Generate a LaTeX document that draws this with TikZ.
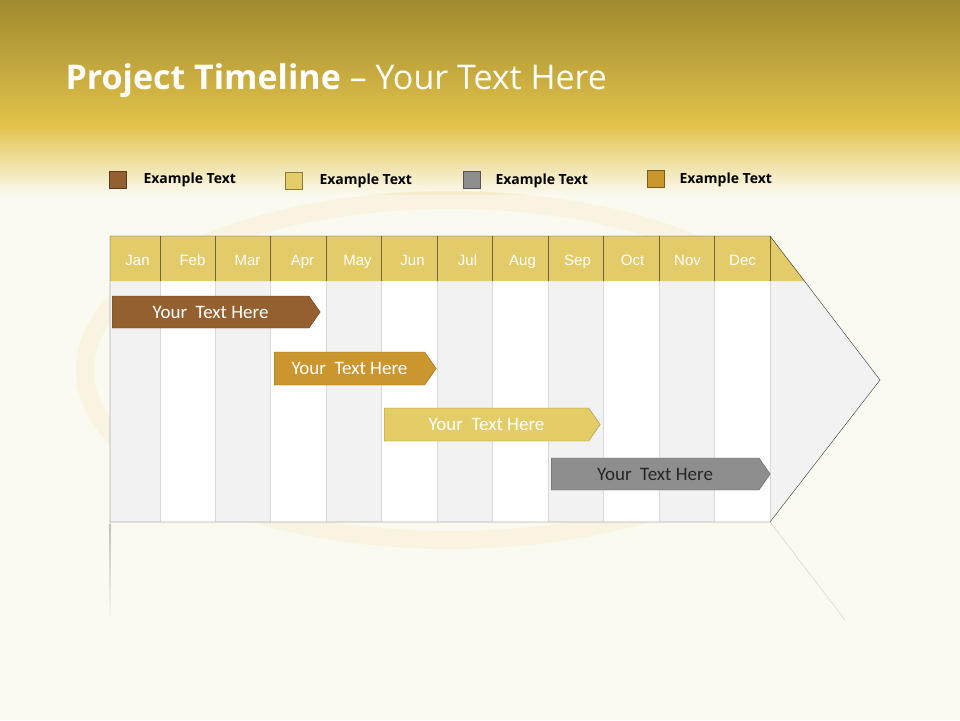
\documentclass[tikz,border=0pt]{standalone}
\usepackage{fontspec}
\setmainfont{Open Sans}
\newfontfamily\carl{Carlito}
\newfontfamily\narrow{Liberation Sans}
\usetikzlibrary{shapes.symbols}
\definecolor{bgc}{HTML}{FBFAF0}
\definecolor{goldtop}{HTML}{A08A30}
\definecolor{goldmid}{HTML}{E2C24A}
\definecolor{hdr}{HTML}{E3CB6A}
\definecolor{brn}{HTML}{956030}
\definecolor{ochre}{HTML}{CC962E}
\definecolor{ylw}{HTML}{E4CC66}
\definecolor{gry}{HTML}{8E8E8E}
\definecolor{colg}{HTML}{F2F2F2}
\tikzset{
 legbox/.style={draw=#1!60!black,fill=#1,minimum width=17pt,minimum height=17pt,inner sep=0pt},
 legtxt/.style={font=\bfseries\fontsize{14}{16}\selectfont,anchor=west},
 month/.style={font=\narrow\fontsize{15}{17}\selectfont,text=white},
 bar/.style={signal,signal to=east,signal pointer angle=110,draw=#1!70!black,fill=#1,inner sep=0pt,anchor=west,font=\carl\fontsize{19}{21}\selectfont,text=white},
}
\begin{document}
\begin{tikzpicture}[x=1pt,y=-1pt]
\useasboundingbox (0,0) rectangle (960,720);
\fill[bgc] (0,0) rectangle (960,720);
\shade[top color=goldtop,bottom color=goldmid] (0,0) rectangle (960,125);
\shade[top color=goldmid,bottom color=bgc] (0,125) rectangle (960,195);
% faint ring
\draw[line width=18pt,color=hdr!35] (450,370) ellipse (365 and 170);
\fill[bgc,opacity=.6] (0,195) rectangle (960,720);
\node[anchor=west,text=white,font=\fontsize{34}{38}\selectfont] (title) at (62,81) {\textbf{Project Timeline} -- Your Text Here};
% legend
\node[legbox=brn] (l1) at (118,180) {};
\node[legtxt] (t1) at (140,180) {Example Text};
\node[legbox=ylw] (l2) at (294,181) {};
\node[legtxt] (t2) at (316,181) {Example Text};
\node[legbox=gry] (l3) at (472,180) {};
\node[legtxt] (t3) at (492,181) {Example Text};
\node[legbox=ochre] (l4) at (656,179) {};
\node[legtxt] (t4) at (676,180) {Example Text};
% body
\fill[colg] (110,236) -- (770,236) -- (880,380) -- (770,522) -- (110,522) -- cycle;
\foreach \a/\b in {160/215,270/326,381/437,492/548,603/659,714/770}
  \fill[white] (\a,281) rectangle (\b,522);
\fill[hdr] (110,236) -- (770,236) -- (805,281) -- (110,281) -- cycle;
\foreach \x in {160,215,270,326,381,437,492,548,603,659,714,770}{
  \draw[black!50!hdr,line width=0.8pt] (\x,236) -- (\x,281);
  \draw[black!15] (\x,281) -- (\x,522);}
\draw[black!80] (110,522) -- (110,236) -- (770,236) -- (880,380) -- (770,522) -- cycle;
\foreach \m [count=\i] in {Jan,Feb,Mar,Apr,May,Jun,Jul,Aug,Sep,Oct,Nov,Dec}
  \node[month,anchor=base] (m\i) at ({110+(\i-0.5)*55.0},265) {\m};
% reflection
\shade[top color=black!25,bottom color=bgc] (109.5,523) rectangle (110.5,620);
\draw[black!20] (770,522) -- (845,620);
% bars
\node[bar=brn,minimum width=208pt,minimum height=32pt] (b1) at (112,312) {Your~ Text Here};
\node[bar=ochre,minimum width=162pt,minimum height=33pt] (b2) at (274,368.5) {Your~ Text Here};
\node[bar=ylw,minimum width=216pt,minimum height=33pt] (b3) at (384,424.5) {Your~ Text Here};
\node[bar=gry,minimum width=219pt,minimum height=32pt,text=black!85] (b4) at (551,474) {Your~ Text Here};
\end{tikzpicture}
\end{document}
